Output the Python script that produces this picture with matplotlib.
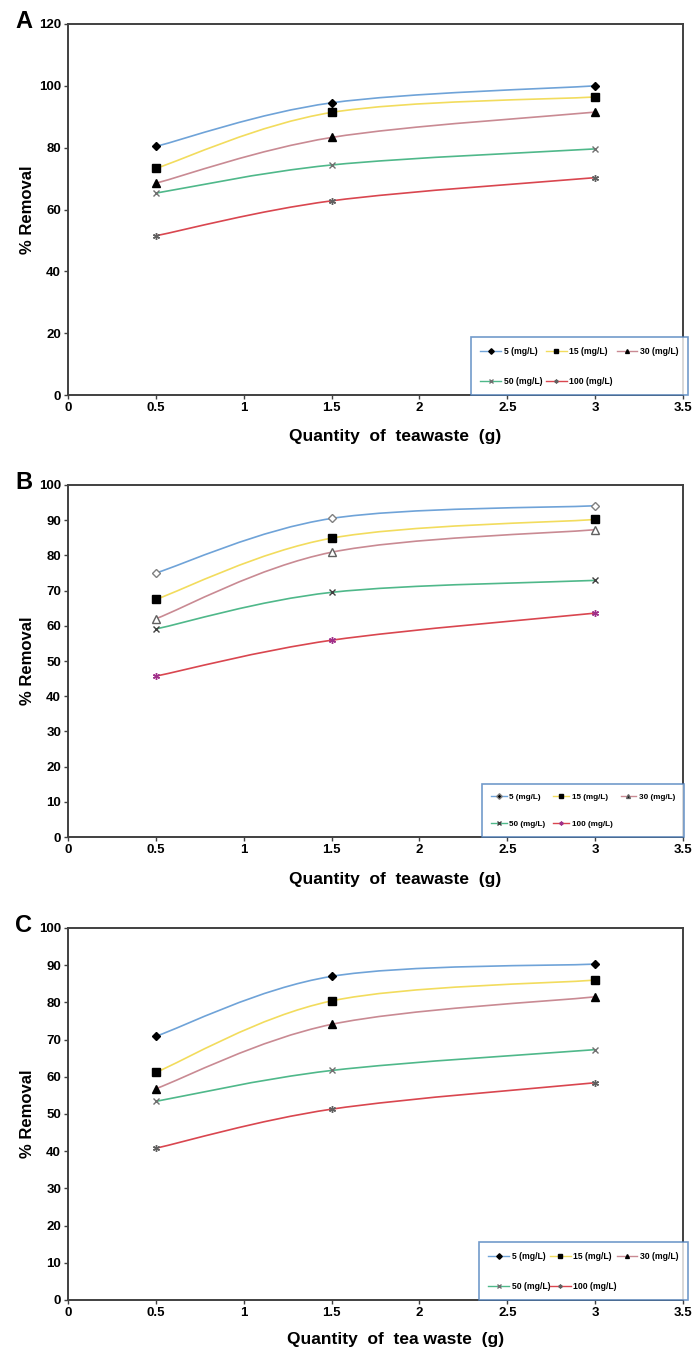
import matplotlib.pyplot as plt
from matplotlib.path import Path
from matplotlib.patches import PathPatch
from matplotlib.lines import Line2D

plt.rcParams['font.family'] = ['Liberation Sans', 'DejaVu Sans']
plt.rcParams['font.weight'] = 'bold'

# teawaste dose (g)
dose = [0.5, 1.5, 3]
conc_labels = ['5 (mg/L)', '15 (mg/L)', '30 (mg/L)', '50 (mg/L)', '100 (mg/L)']

# % removal, one row per initial concentration (5, 15, 30, 50, 100 mg/L)
removal_a = [[80.4, 94.5, 100.0],
             [73.3, 91.4, 96.4],
             [68.5, 83.3, 91.5],
             [65.3, 74.4, 79.6],
             [51.5, 62.8, 70.3]]
removal_b = [[75.0, 90.5, 94.1],
             [67.5, 84.9, 90.2],
             [62.0, 80.9, 87.3],
             [59.1, 69.5, 72.9],
             [45.7, 55.9, 63.6]]
removal_c = [[70.9, 87.0, 90.3],
             [61.2, 80.4, 86.0],
             [56.8, 74.1, 81.5],
             [53.4, 61.7, 67.3],
             [40.8, 51.3, 58.4]]

line_colors = ['#6fa3d8', '#f2dc5d', '#c98a93', '#4fb88a', '#d9464f']

# marker style per series: (marker, size, face, edge)
mk_filled = [('D', 4.4, 'k', 'k'), ('s', 5.4, 'k', 'k'), ('^', 5.2, 'k', 'k'),
             ('x', 5.0, '#707070', '#707070'), ((6, 2, 0), 5.0, '#606060', '#606060')]
mk_open = [('D', 4.4, 'white', '#808080'), ('s', 5.4, 'k', 'k'), ('^', 5.2, 'white', '#606060'),
           ('x', 5.0, '#404040', '#404040'), ((6, 2, 0), 5.0, '#a0308a', '#a0308a')]


def smooth_path(xs, ys):
    # excel-like smoothed line (bezier through the points)
    pts = list(zip(xs, ys))
    n = len(pts)
    verts = [pts[0]]
    codes = [Path.MOVETO]
    for i in range(n - 1):
        p0 = pts[max(i - 1, 0)]
        p1 = pts[i]
        p2 = pts[i + 1]
        p3 = pts[min(i + 2, n - 1)]
        c1 = (p1[0] + (p2[0] - p0[0]) / 6, p1[1] + (p2[1] - p0[1]) / 6)
        c2 = (p2[0] - (p3[0] - p1[0]) / 6, p2[1] - (p3[1] - p1[1]) / 6)
        verts += [c1, c2, p2]
        codes += [Path.CURVE4] * 3
    return Path(verts, codes)


W, H = 695, 1353
fig = plt.figure(figsize=(W / 100, H / 100), dpi=100)

# top/bot = axes frame in pixels, xl = top of the x label in pixels
panels = [
    dict(data=removal_a, top=24, bot=395, xl=429, ymax=120, step=20, lab='A', mk=mk_filled,
         xlabel='Quantity  of  teawaste  (g)', leg=(471, 688, 337), hl=2.4, fs=6.2),
    dict(data=removal_b, top=485, bot=837, xl=872, ymax=100, step=10, lab='B', mk=mk_open,
         xlabel='Quantity  of  teawaste  (g)', leg=(482, 684, 777), hl=1.9, fs=5.9),
    dict(data=removal_c, top=928, bot=1300, xl=1332, ymax=100, step=10, lab='C', mk=mk_filled,
         xlabel='Quantity  of  tea waste  (g)', leg=(479, 688, 1241), hl=2.4, fs=6.2),
]

x0, x1 = 68, 683
for p in panels:
    axw = x1 - x0
    axh = p['bot'] - p['top']
    ax = fig.add_axes([x0 / W, 1 - p['bot'] / H, axw / W, axh / H])
    ax.set_xlim(0, 3.5)
    ax.set_ylim(0, p['ymax'])
    ax.set_xticks([0, 0.5, 1, 1.5, 2, 2.5, 3, 3.5])
    ax.set_xticklabels(['0', '0.5', '1', '1.5', '2', '2.5', '3', '3.5'])
    ax.set_yticks(range(0, p['ymax'] + 1, p['step']))
    for s in ax.spines.values():
        s.set_color('#404040')
        s.set_linewidth(1.4)
    ax.tick_params(direction='out', length=3, width=1, color='#404040', labelsize=9.5, pad=2)

    handles = []
    for vals, col, (m, ms, fc, ec) in zip(p['data'], line_colors, p['mk']):
        ax.add_patch(PathPatch(smooth_path(dose, vals), fill=False, edgecolor=col, lw=1.2))
        ax.plot(dose, vals, ls='none', marker=m, markersize=ms, mfc=fc, mec=ec, mew=1.0)
        handles.append(Line2D([], [], color=col, lw=1.0, marker=m, markersize=2.8,
                              mfc='k' if fc == 'white' else fc, mec=ec))

    order = [0, 3, 1, 4, 2]
    lx0, lx1, ly = p['leg']
    leg = ax.legend([handles[i] for i in order], [conc_labels[i] for i in order],
                    ncol=3, loc='lower left',
                    bbox_to_anchor=((lx0 - x0) / axw, 0, (lx1 - lx0) / axw, (p['bot'] - ly) / axh),
                    mode='expand', fontsize=p['fs'], frameon=True, fancybox=False,
                    handlelength=p['hl'], handletextpad=0.3, columnspacing=1.0,
                    labelspacing=2.4, borderpad=1.1, borderaxespad=0)
    leg.get_frame().set_edgecolor('#4f81bd')
    leg.get_frame().set_linewidth(1.2)

    ax.set_xlabel(p['xlabel'], fontsize=12.5, fontweight='bold')
    ax.xaxis.set_label_coords(0.532, -(p['xl'] - p['bot']) / axh)
    ax.set_ylabel('% Removal', fontsize=12, fontweight='bold')
    ax.yaxis.set_label_coords(-0.053, 0.5)

    fig.text(15 / W, 1 - (p['top'] + 4) / H, p['lab'], fontsize=17, fontweight='bold',
             va='baseline', ha='left')

fig.savefig('out.png', dpi=100)
